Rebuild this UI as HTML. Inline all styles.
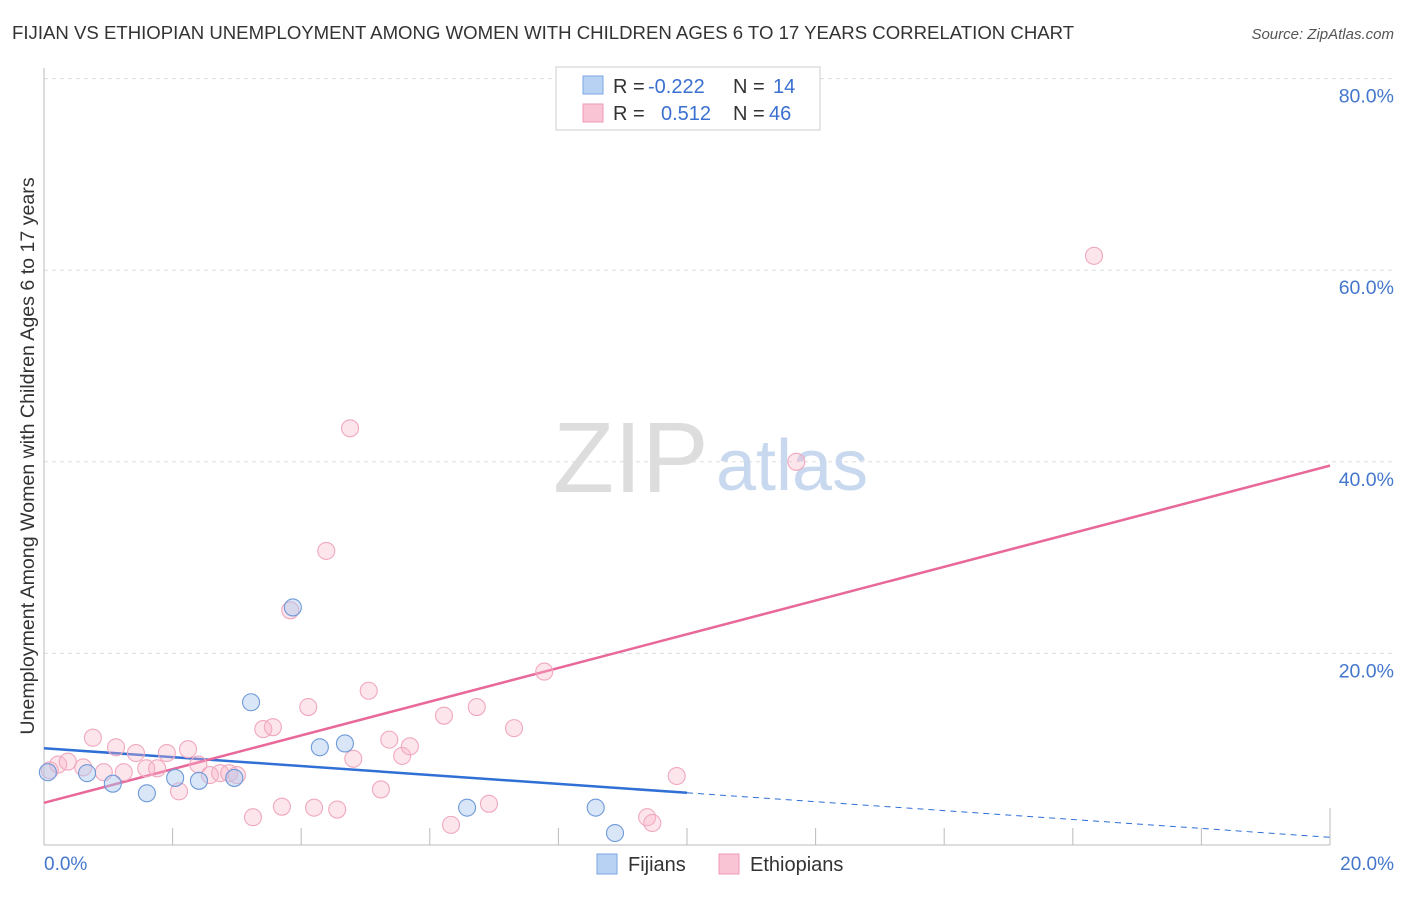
<!DOCTYPE html>
<html><head><meta charset="utf-8"><style>
body{margin:0;background:#fff;font-family:"Liberation Sans",sans-serif;}
svg text{font-family:"Liberation Sans",sans-serif;}
</style></head><body>
<svg width="1406" height="892" xmlns="http://www.w3.org/2000/svg" id="chart">
<text x="12" y="39" font-size="18.6" fill="#333">FIJIAN VS ETHIOPIAN UNEMPLOYMENT AMONG WOMEN WITH CHILDREN AGES 6 TO 17 YEARS CORRELATION CHART</text>
<text x="1394" y="39" font-size="15" fill="#555" text-anchor="end" font-style="italic">Source: ZipAtlas.com</text>
<g id="grid"></g>
<g><text x="553" y="492" font-size="100" fill="#ddd" font-family="Liberation Serif,serif">ZIP</text><text x="716" y="490" font-size="72" fill="#c8d8ee">atlas</text></g>
<line x1="44" y1="68" x2="44" y2="845" stroke="#bbb"/>
<line x1="44" y1="845" x2="1330" y2="845" stroke="#bbb"/>
<g id="ticks"></g>
<g id="lines"></g>
<g id="pts"></g>
<text x="34" y="456" font-size="19.6" fill="#333" text-anchor="middle" transform="rotate(-90 34 456)">Unemployment Among Women with Children Ages 6 to 17 years</text>
<text x="44" y="870" font-size="19" fill="#4477cc">0.0%</text>
<text x="1394" y="870" font-size="19" fill="#4477cc" text-anchor="end">20.0%</text>
<g>
<rect x="556" y="67" width="264" height="63" fill="#fff" stroke="#ccc"/>
<rect x="583" y="76" width="20" height="18" fill="#b8d2f4" stroke="#7aa6e0"/>
<rect x="583" y="104" width="20" height="18" fill="#f9c4d4" stroke="#ee9ab4"/>
<text x="613" y="93" font-size="20" fill="#333">R =</text><text x="648" y="93" font-size="20" fill="#3a70d0">-0.222</text>
<text x="733" y="93" font-size="20" fill="#333">N =</text><text x="773" y="93" font-size="20" fill="#3a70d0">14</text>
<text x="613" y="120" font-size="20" fill="#333">R =</text><text x="661" y="120" font-size="20" fill="#3a70d0">0.512</text>
<text x="733" y="120" font-size="20" fill="#333">N =</text><text x="769" y="120" font-size="20" fill="#3a70d0">46</text>
</g>
<g><rect x="597" y="854" width="20" height="20" fill="#b8d2f4" stroke="#7aa6e0"/><text x="628" y="871" font-size="20" fill="#333">Fijians</text></g>
<g><rect x="719" y="854" width="20" height="20" fill="#f9c4d4" stroke="#ee9ab4"/><text x="750" y="871" font-size="20" fill="#333">Ethiopians</text></g>
</svg>
<script>
const yTicks=[20,40,60,80];
const xTicks=[2,4,6,8,10,12,14,16,18,20];
const fijX=[0.06,0.67,1.07,1.6,2.04,2.41,2.96,3.22,3.87,4.29,4.68,6.58,8.58,8.88];
const fijY=[7.6,7.5,6.4,5.4,7.0,6.7,7.0,14.9,24.8,10.2,10.6,3.9,3.9,1.25];
const ethX=[0.09,0.22,0.37,0.61,0.76,0.93,1.12,1.24,1.43,1.59,1.76,1.91,2.10,2.24,2.40,2.58,2.74,2.88,3.00,3.25,3.41,3.56,3.70,3.83,4.11,4.20,4.39,4.56,4.76,4.81,5.05,5.24,5.37,5.57,5.69,6.22,6.33,6.73,6.92,7.31,7.78,9.84,9.38,9.46,11.70,16.33];
const ethY=[7.8,8.4,8.7,8.1,11.2,7.6,10.2,7.6,9.6,8.0,8.0,9.6,5.6,10.0,8.4,7.3,7.5,7.5,7.3,2.9,12.1,12.3,4.0,24.5,14.4,3.9,30.7,3.7,43.5,9.0,16.1,5.8,11.0,9.3,10.3,13.5,2.1,14.4,4.3,12.2,18.1,7.2,2.9,2.3,40.0,61.5];
const fijTrend=[10.1,0.8];
const ethTrend=[4.4,39.6];
const X=v=>44+v*64.3, Y=v=>845-v*9.58;
const NS="http://www.w3.org/2000/svg";
function mk(t,a,p){const e=document.createElementNS(NS,t);for(const k in a)e.setAttribute(k,a[k]);document.getElementById(p).appendChild(e);return e;}
yTicks.forEach(v=>{
 const l=mk('line',{x1:44,x2:1394,y1:Y(v),y2:Y(v),stroke:'#ddd','stroke-dasharray':'4,4'},'grid');
 
 
 const t=mk('text',{x:1394,y:Y(v)+24,'font-size':19.5,fill:'#4477cc','text-anchor':'end'},'grid');
 t.textContent=v.toFixed(1)+'%';
 
 
});
xTicks.forEach(v=>{
 const l=mk('line',{x1:X(v),x2:X(v),y1:v==20?808:828,y2:845,stroke:'#bbb'},'ticks');
 
 
});
function pts(xs,ys,f,s,nm){xs.forEach((x,i)=>{const c=mk('circle',{cx:X(x),cy:Y(ys[i]),r:8.5,fill:f,stroke:s,'stroke-width':1.1},'pts');
 
 });}
pts(ethX,ethY,'rgba(248,180,200,0.35)','#f0a8bf','ethiopian-point');
pts(fijX,fijY,'rgba(170,200,240,0.45)','#6f9ad8','fijian-point');
let l=mk('line',{x1:X(0),y1:Y(fijTrend[0]),x2:X(10),y2:Y(fijTrend[0]+(fijTrend[1]-fijTrend[0])/2),stroke:'#2f6fd6','stroke-width':2.5},'lines');


l=mk('line',{x1:X(10),y1:Y(fijTrend[0]+(fijTrend[1]-fijTrend[0])/2),x2:X(20),y2:Y(fijTrend[1]),stroke:'#2f6fd6','stroke-width':1,'stroke-dasharray':'6,5'},'lines');


l=mk('line',{x1:X(0),y1:Y(ethTrend[0]),x2:X(20),y2:Y(ethTrend[1]),stroke:'#e8689a','stroke-width':2.5},'lines');


</script>
</body></html>
